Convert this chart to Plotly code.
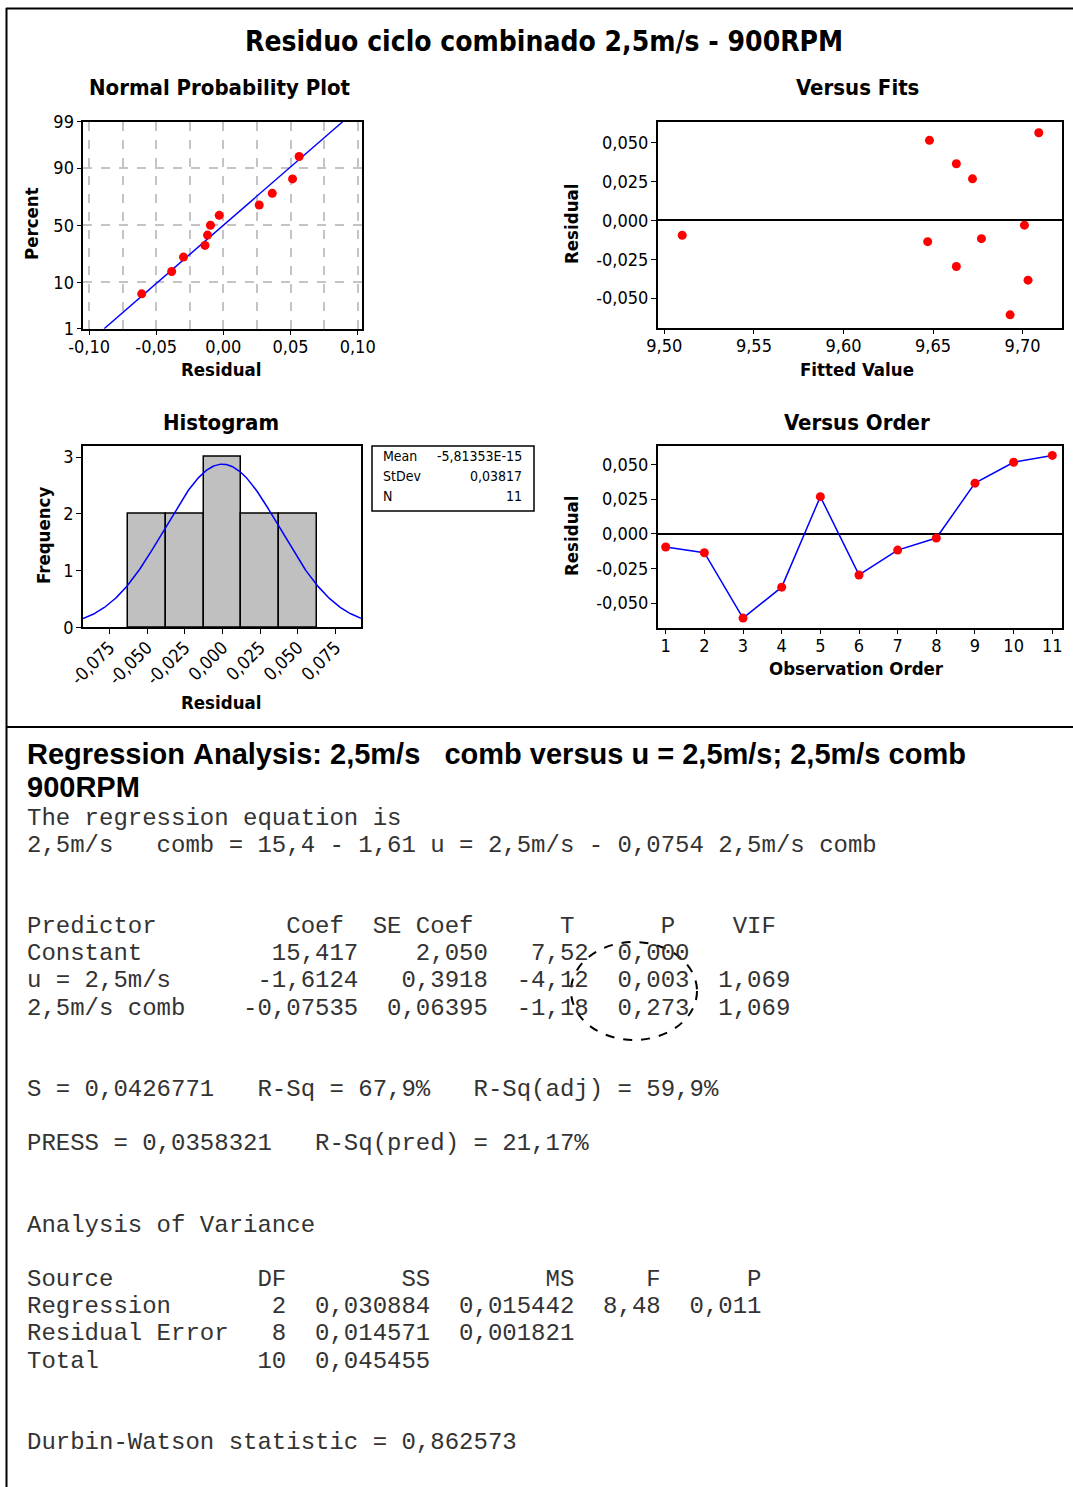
import plotly.graph_objects as go
from statistics import NormalDist
import numpy as np

W, H = 1073, 1487

# ---------------- data ----------------
obs_order = [1, 2, 3, 4, 5, 6, 7, 8, 9, 10, 11]
residuals = [-0.0096, -0.0137, -0.0608, -0.0385, 0.0267, -0.0297,
             -0.0118, -0.0031, 0.0364, 0.0515, 0.0564]
fitted = [9.510, 9.647, 9.693, 9.703, 9.672, 9.663, 9.677, 9.701, 9.663, 9.648, 9.709]

stat_mean = -5.81353e-15
stat_sd = 0.03817
stat_n = 11
stat_labels = ["Mean", "StDev", "N"]
stat_values = ["-5,81353E-15", "0,03817", "11"]

pct_ticks = [1, 10, 50, 90, 99]
npp_xticks = [-0.10, -0.05, 0.0, 0.05, 0.10]
npp_xlabels = ["-0,10", "-0,05", "0,00", "0,05", "0,10"]
npp_xminor = [-0.075, -0.025, 0.025, 0.075]
fit_xticks = [9.50, 9.55, 9.60, 9.65, 9.70]
fit_xlabels = ["9,50", "9,55", "9,60", "9,65", "9,70"]
res_ticks = [-0.05, -0.025, 0.0, 0.025, 0.05]
res_labels = ["-0,050", "-0,025", "0,000", "0,025", "0,050"]
hist_xticks = [-0.075, -0.05, -0.025, 0.0, 0.025, 0.05, 0.075]
hist_xlabels = ["-0,075", "-0,050", "-0,025", "0,000", "0,025", "0,050", "0,075"]
hist_bin_start = -0.0625
hist_bin_size = 0.025

main_title = "Residuo ciclo combinado 2,5m/s - 900RPM"
reg_title_1 = "Regression Analysis: 2,5m/s   comb versus u = 2,5m/s; 2,5m/s comb"
reg_title_2 = "900RPM"
report_lines = [
    "The regression equation is",
    "2,5m/s   comb = 15,4 - 1,61 u = 2,5m/s - 0,0754 2,5m/s comb",
    "",
    "",
    "Predictor         Coef  SE Coef      T      P    VIF",
    "Constant         15,417    2,050   7,52  0,000",
    "u = 2,5m/s      -1,6124   0,3918  -4,12  0,003  1,069",
    "2,5m/s comb    -0,07535  0,06395  -1,18  0,273  1,069",
    "",
    "",
    "S = 0,0426771   R-Sq = 67,9%   R-Sq(adj) = 59,9%",
    "",
    "PRESS = 0,0358321   R-Sq(pred) = 21,17%",
    "",
    "",
    "Analysis of Variance",
    "",
    "Source          DF        SS        MS     F      P",
    "Regression       2  0,030884  0,015442  8,48  0,011",
    "Residual Error   8  0,014571  0,001821",
    "Total           10  0,045455",
    "",
    "",
    "Durbin-Watson statistic = 0,862573",
]

# ---------------- helpers ----------------
def fx(x):
    return x / W

def fy(y):
    return 1 - y / H

nd = NormalDist()
SANS = "DejaVu Sans Condensed, Noto Sans, DejaVu Sans, sans-serif"
TICKF = dict(family=SANS, size=18, color="black")
RED = "#ff0000"
BLUE = "#0000ff"
GRID = "#c4c4c4"

fig = go.Figure()

# ---- Normal probability plot (x, y) ----
n = len(residuals)
sorted_res = sorted(residuals)
probs = [(i + 1 - 0.3) / (n + 0.4) for i in range(n)]
zs = [nd.inv_cdf(p) for p in probs]
zlo, zhi = nd.inv_cdf(0.01), nd.inv_cdf(0.99)
fig.add_trace(go.Scatter(x=[stat_mean + stat_sd * zlo, stat_mean + stat_sd * zhi],
                         y=[zlo, zhi], mode="lines", line=dict(color=BLUE, width=1.5),
                         xaxis="x", yaxis="y", showlegend=False))
fig.add_trace(go.Scatter(x=sorted_res, y=zs, mode="markers",
                         marker=dict(color=RED, size=9), xaxis="x", yaxis="y",
                         showlegend=False))

# ---- Versus fits (x2, y2) ----
fig.add_trace(go.Scatter(x=fitted, y=residuals, mode="markers",
                         marker=dict(color=RED, size=9), xaxis="x2", yaxis="y2",
                         showlegend=False))

# ---- Histogram (x3, y3) ----
fig.add_trace(go.Histogram(x=residuals,
                           xbins=dict(start=hist_bin_start, end=-hist_bin_start,
                                      size=hist_bin_size),
                           marker=dict(color="#c0c0c0", line=dict(color="black", width=1.5)),
                           xaxis="x3", yaxis="y3", showlegend=False))
cx = np.linspace(-0.0925, 0.092, 300)
cy = stat_n * hist_bin_size * np.exp(-0.5 * ((cx - stat_mean) / stat_sd) ** 2) / (stat_sd * np.sqrt(2 * np.pi))
fig.add_trace(go.Scatter(x=cx, y=cy, mode="lines", line=dict(color=BLUE, width=1.5),
                         xaxis="x3", yaxis="y3", showlegend=False))

# ---- Versus order (x4, y4) ----
fig.add_trace(go.Scatter(x=obs_order, y=residuals, mode="lines+markers",
                         line=dict(color=BLUE, width=1.5),
                         marker=dict(color=RED, size=9), xaxis="x4", yaxis="y4",
                         showlegend=False))

common = dict(showline=True, mirror=True, linecolor="black", linewidth=1.5,
              ticks="outside", ticklen=5, tickcolor="black", tickwidth=1.2,
              tickfont=TICKF, fixedrange=True, automargin=False)
xcommon = dict(common, ticklabelstandoff=-4)
ycommon = dict(common, ticklabelstandoff=-1)

layout = dict(
    width=W, height=H, autosize=False,
    margin=dict(l=0, r=0, t=0, b=0, pad=0, autoexpand=False),
    paper_bgcolor="white", plot_bgcolor="white",
    showlegend=False, bargap=0,
    xaxis=dict(domain=[fx(83.3), fx(361.7)], anchor="y",
               range=[-0.1043, 0.1030], tickmode="array",
               tickvals=npp_xticks, ticktext=npp_xlabels,
               showgrid=True, gridcolor=GRID, griddash="dash", gridwidth=1.5,
               minor=dict(tickvals=npp_xminor, showgrid=True, gridcolor=GRID,
                          griddash="dash", gridwidth=1.5, ticks=""),
               zeroline=False, **xcommon),
    yaxis=dict(domain=[fy(328.7), fy(121.7)], anchor="x",
               range=[zlo, zhi], tickmode="array",
               tickvals=[nd.inv_cdf(p / 100) for p in pct_ticks],
               ticktext=[str(p) for p in pct_ticks],
               showgrid=True, gridcolor=GRID, griddash="dash", gridwidth=1.5,
               zeroline=False, **ycommon),
    xaxis2=dict(domain=[fx(657.7), fx(1061.7)], anchor="y2",
                range=[9.4963, 9.7218], tickmode="array",
                tickvals=fit_xticks, ticktext=fit_xlabels,
                showgrid=False, zeroline=False, **xcommon),
    yaxis2=dict(domain=[fy(327.7), fy(121.7)], anchor="x2",
                range=[-0.0691, 0.0635], tickmode="array",
                tickvals=res_ticks, ticktext=res_labels,
                showgrid=False, zeroline=True, zerolinecolor="black",
                zerolinewidth=1.5, **ycommon),
    xaxis3=dict(domain=[fx(83), fx(361)], anchor="y3",
                range=[-0.0925, 0.092], tickmode="array",
                tickvals=hist_xticks, ticktext=hist_xlabels, tickangle=-45,
                showgrid=False, zeroline=False, **xcommon),
    yaxis3=dict(domain=[fy(627.3), fy(445.7)], anchor="x3",
                range=[0, 3.2], tickmode="array", tickvals=[0, 1, 2, 3],
                ticktext=["0", "1", "2", "3"],
                showgrid=False, zeroline=False, **ycommon),
    xaxis4=dict(domain=[fx(657.7), fx(1061.7)], anchor="y4",
                range=[0.793, 11.243], tickmode="array",
                tickvals=obs_order, ticktext=[str(v) for v in obs_order],
                showgrid=False, zeroline=False, **xcommon),
    yaxis4=dict(domain=[fy(627.7), fy(445.7)], anchor="x4",
                range=[-0.0677, 0.0634], tickmode="array",
                tickvals=res_ticks, ticktext=res_labels,
                showgrid=False, zeroline=True, zerolinecolor="black",
                zerolinewidth=1.5, **ycommon),
)
fig.update_layout(**layout)

ann = []

def add_text(text, x, y, size, bold=False, family=SANS, xanchor="center",
             angle=0, color="black"):
    t = text.replace(" ", "\u00a0")
    if bold:
        t = "<b>" + t + "</b>"
    ann.append(dict(text=t, x=fx(x), y=fy(y), xref="paper", yref="paper",
                    xanchor=xanchor, yanchor="middle", showarrow=False,
                    textangle=angle, font=dict(family=family, size=size, color=color)))

# titles
add_text(main_title, 544, 41, 28, bold=True)
add_text("Normal Probability Plot", 220, 88, 22, bold=True)
add_text("Versus Fits", 857, 88, 22, bold=True)
add_text("Histogram", 221, 422, 22, bold=True)
add_text("Versus Order", 857, 422, 22, bold=True)
# axis titles
add_text("Residual", 221, 369, 18.5, bold=True)
add_text("Percent", 31, 224, 18.5, bold=True, angle=-90)
add_text("Fitted Value", 857, 369, 18.5, bold=True)
add_text("Residual", 571, 224, 18.5, bold=True, angle=-90)
add_text("Frequency", 43, 536, 18.5, bold=True, angle=-90)
add_text("Residual", 221, 702, 18.5, bold=True)
add_text("Residual", 571, 536, 18.5, bold=True, angle=-90)
add_text("Observation Order", 856, 669, 18.5, bold=True)

# stats box
for i, (lab, val) in enumerate(zip(stat_labels, stat_values)):
    add_text(lab, 381, 456 + 20 * i, 14, xanchor="left")
    add_text(val, 524, 456 + 20 * i, 14, xanchor="right")

# regression report
ARIAL = "Liberation Sans, Arial, sans-serif"
MONO = "Liberation Mono, Courier New, monospace"
add_text(reg_title_1, 25, 754, 29, bold=True, family=ARIAL, xanchor="left")
add_text(reg_title_2, 25, 787, 29, bold=True, family=ARIAL, xanchor="left")
for i, line in enumerate(report_lines):
    if line:
        add_text(line, 25, 818 + 27.15 * i, 24, family=MONO, xanchor="left", color="#333333")

shapes = [
    dict(type="line", xref="paper", yref="paper", x0=fx(6), x1=1, y0=fy(8.5), y1=fy(8.5),
         line=dict(color="black", width=2)),
    dict(type="line", xref="paper", yref="paper", x0=fx(6.5), x1=fx(6.5), y0=fy(8), y1=0,
         line=dict(color="black", width=2)),
    dict(type="line", xref="paper", yref="paper", x0=fx(6), x1=1, y0=fy(727), y1=fy(727),
         line=dict(color="black", width=2)),
    dict(type="rect", xref="paper", yref="paper", x0=fx(372), x1=fx(534), y0=fy(511), y1=fy(446),
         line=dict(color="black", width=1.5)),
    dict(type="circle", xref="paper", yref="paper", x0=fx(571), x1=fx(697), y0=fy(1040), y1=fy(942),
         line=dict(color="black", width=2, dash="dash")),
]
fig.update_layout(annotations=ann, shapes=shapes)

fig.write_html("out.html", config={"displayModeBar": False},
               post_script="document.body.style.margin='0';document.body.style.overflow='hidden';")
